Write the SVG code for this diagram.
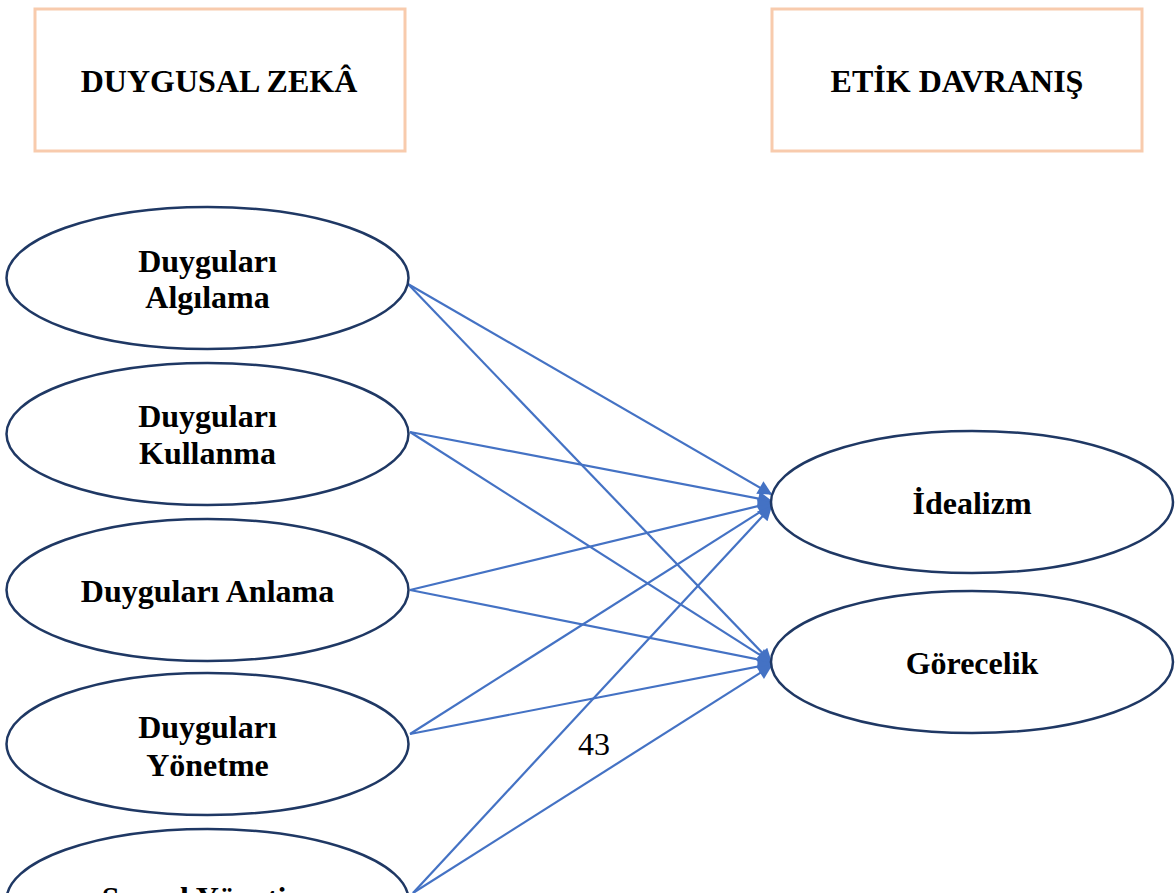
<svg xmlns="http://www.w3.org/2000/svg" width="1176" height="893" viewBox="0 0 1176 893">
<style>
.box{fill:#fff;stroke:#F8CBAD;stroke-width:3}
.ell{fill:#fff;stroke:#1F3864;stroke-width:2.5}
.t{font-family:"Liberation Serif","Times New Roman",serif;font-weight:bold;font-size:32px;fill:#000;text-anchor:middle}
.n{font-family:"Liberation Serif","Times New Roman",serif;font-size:32px;fill:#000;text-anchor:middle}
.c{stroke:#4472C4;stroke-width:2.2;fill:none;marker-end:url(#ah)}
</style>
<defs>
<marker id="ah" viewBox="0 0 10 10" refX="9" refY="5" markerWidth="7" markerHeight="6.5" markerUnits="strokeWidth" orient="auto">
<path d="M0,0 L10,5 L0,10 z" fill="#4472C4"/>
</marker>
</defs>
<rect width="1176" height="893" fill="#fff"/>
<g id="box-duygusal">
<rect class="box" x="35" y="9" width="370" height="142"/>
<text class="t" x="219" y="92">DUYGUSAL ZEKÂ</text>
</g>
<g id="box-etik">
<rect class="box" x="772" y="9" width="370" height="142"/>
<text class="t" x="957" y="92">ETİK DAVRANIŞ</text>
</g>
<g id="connectors">
<line class="c" x1="408" y1="284" x2="771" y2="494"/>
<line class="c" x1="408" y1="284" x2="771" y2="662"/>
<line class="c" x1="410" y1="432" x2="771" y2="501"/>
<line class="c" x1="410" y1="432" x2="771" y2="662"/>
<line class="c" x1="410" y1="590" x2="771" y2="503"/>
<line class="c" x1="410" y1="590" x2="771" y2="662"/>
<line class="c" x1="410" y1="734" x2="771" y2="505"/>
<line class="c" x1="410" y1="734" x2="771" y2="664"/>
<line class="c" x1="413" y1="893" x2="771" y2="507"/>
<line class="c" x1="413" y1="893" x2="771" y2="666"/>
</g>
<g id="node-algilama">
<ellipse class="ell" cx="207.5" cy="278" rx="201" ry="71"/>
<text class="t" x="207.5" y="272">Duyguları</text>
<text class="t" x="207.5" y="308">Algılama</text>
</g>
<g id="node-kullanma">
<ellipse class="ell" cx="207.5" cy="434" rx="201" ry="71"/>
<text class="t" x="207.5" y="427">Duyguları</text>
<text class="t" x="207.5" y="464">Kullanma</text>
</g>
<g id="node-anlama">
<ellipse class="ell" cx="207.5" cy="590" rx="201" ry="71"/>
<text class="t" x="207.5" y="602">Duyguları Anlama</text>
</g>
<g id="node-yonetme">
<ellipse class="ell" cx="207.5" cy="744" rx="201" ry="71"/>
<text class="t" x="207.5" y="738">Duyguları</text>
<text class="t" x="207.5" y="776">Yönetme</text>
</g>
<g id="node-sosyal">
<ellipse class="ell" cx="207.5" cy="900" rx="201" ry="71"/>
<text class="t" x="207.5" y="909">Sosyal Yönetim</text>
</g>
<g id="node-idealizm">
<ellipse class="ell" cx="972" cy="502" rx="201" ry="71"/>
<text class="t" x="972" y="514">İdealizm</text>
</g>
<g id="node-gorecelik">
<ellipse class="ell" cx="972" cy="662" rx="201" ry="71"/>
<text class="t" x="972" y="674">Görecelik</text>
</g>
<text class="n" x="594" y="755">43</text>
</svg>
